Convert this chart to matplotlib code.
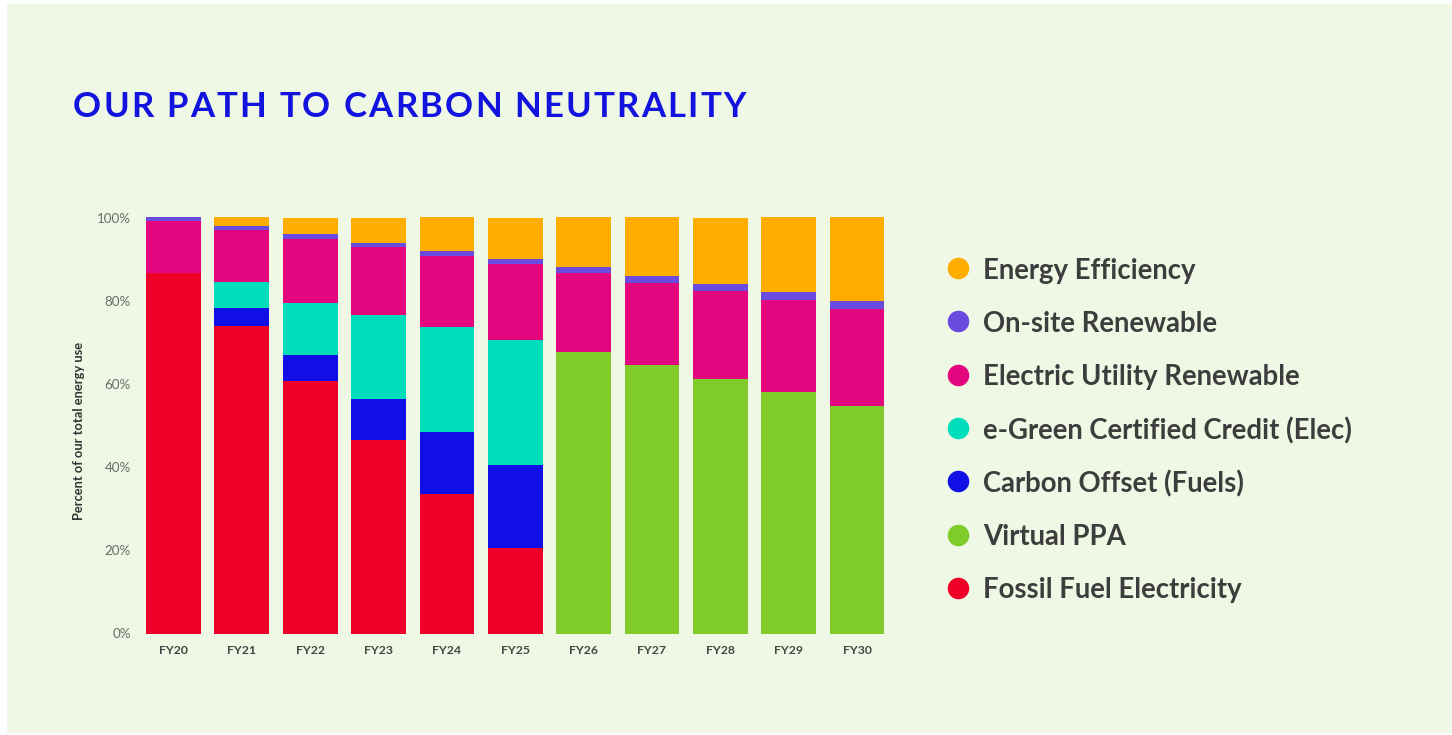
import matplotlib
matplotlib.use('Agg')
import matplotlib.pyplot as plt
from matplotlib.lines import Line2D
from matplotlib.patches import Rectangle

# data (percent of total energy use)
years = ['FY20', 'FY21', 'FY22', 'FY23', 'FY24', 'FY25', 'FY26', 'FY27', 'FY28', 'FY29', 'FY30']
fossil = [86.8, 74.0, 60.8, 46.5, 33.5, 20.6, 0, 0, 0, 0, 0]
virtual_ppa = [0, 0, 0, 0, 0, 0, 67.7, 64.6, 61.3, 58.1, 54.8]
carbon_offset = [0, 4.4, 6.2, 9.9, 14.9, 19.9, 0, 0, 0, 0, 0]
egreen = [0, 6.3, 12.5, 20.2, 25.3, 30.1, 0, 0, 0, 0, 0]
elec_utility = [12.5, 12.5, 15.4, 16.4, 17.2, 18.4, 19.0, 19.7, 21.1, 22.2, 23.3]
onsite = [1.0, 0.9, 1.3, 1.0, 1.1, 1.1, 1.5, 1.7, 1.7, 1.9, 1.9]
efficiency = [0, 2.2, 3.8, 6.0, 8.3, 9.9, 12.1, 14.3, 15.9, 18.1, 20.3]

series = [
    ('Fossil Fuel Electricity', fossil, '#EE0028'),
    ('Virtual PPA', virtual_ppa, '#7FCB2A'),
    ('Carbon Offset (Fuels)', carbon_offset, '#1010E6'),
    ('e-Green Certified Credit (Elec)', egreen, '#00DDBB'),
    ('Electric Utility Renewable', elec_utility, '#E4067E'),
    ('On-site Renewable', onsite, '#6A4BDF'),
    ('Energy Efficiency', efficiency, '#FFAE00'),
]

title = 'OUR PATH TO CARBON NEUTRALITY'

W, H = 1452, 735
BG = '#EFF8E4'
fig = plt.figure(figsize=(W / 100, H / 100), dpi=100)
fig.patch.set_facecolor('white')
fig.add_artist(Rectangle((7 / W, 2 / H), 1 - 7 / W, 1 - 6 / H, transform=fig.transFigure,
                         facecolor=BG, edgecolor='none', zorder=0))

def fx(px):
    return px / W

def fy(py):
    return 1 - py / H

ax = fig.add_axes([fx(139.3), fy(633.5), fx(751.9), (633.5 - 218) / H])
ax.set_facecolor('none')

bottom = [0] * len(years)
x = list(range(len(years)))
for name, vals, color in series:
    ax.bar(x, vals, width=0.8, bottom=bottom, color=color, clip_on=False, zorder=2)
    bottom = [b + v for b, v in zip(bottom, vals)]

ax.set_xlim(-0.5, len(years) - 0.5)
ax.set_ylim(0, 100)
ax.set_yticks([0, 20, 40, 60, 80, 100])
ax.set_yticklabels(['0%', '20%', '40%', '60%', '80%', '100%'])
ax.set_xticks(x)
ax.set_xticklabels(years)
for s in ax.spines.values():
    s.set_visible(False)
ax.tick_params(axis='both', length=0)
ax.tick_params(axis='y', pad=6, labelsize=9.6, labelcolor='#6b6b6b')
ax.tick_params(axis='x', pad=8, labelsize=8.8, labelcolor='#454545')
for lab in ax.get_yticklabels():
    lab.set_fontfamily('Lato')
for lab in ax.get_xticklabels():
    lab.set_fontfamily('Lato')
    lab.set_fontweight('bold')

fig.text(fx(79), fy(431), 'Percent of our total energy use', rotation=90,
         ha='center', va='center', fontsize=9.3, fontfamily='Lato',
         fontweight='bold', color='#333333')

# title drawn letter by letter to get the wide tracking of the original
renderer = fig.canvas.get_renderer()
xpos = 73.0
for ch in title:
    t = fig.text(fx(xpos), fy(117), ch, ha='left', va='baseline', fontsize=25,
                 fontfamily='Lato', fontweight='bold', color='#1313E0')
    if ch == ' ':
        w = t.get_window_extent(renderer).width
        t2 = fig.text(0, 0, 'I I', fontsize=25, fontfamily='Lato', fontweight='bold')
        t3 = fig.text(0, 0, 'II', fontsize=25, fontfamily='Lato', fontweight='bold')
        w = t2.get_window_extent(renderer).width - t3.get_window_extent(renderer).width
        t2.remove()
        t3.remove()
    else:
        w = t.get_window_extent(renderer).width
    xpos += w + 2.2

# legend, top to bottom
for i, (name, vals, color) in enumerate(series[::-1]):
    yc = 268 + i * 53.3
    fig.add_artist(Line2D([fx(958)], [fy(yc)], marker='o', markersize=14.5,
                          color=color, transform=fig.transFigure, linestyle='none'))
    fig.text(fx(983), fy(yc), name, ha='left', va='center_baseline', fontsize=19.8,
             fontfamily='Lato', fontweight='bold', color='#3d3d3d')

fig.savefig('out.png', dpi=100)
